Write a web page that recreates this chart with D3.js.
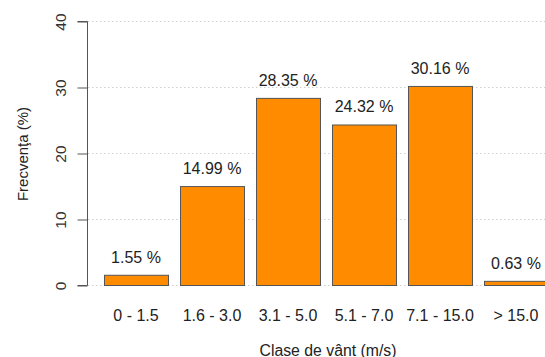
<!DOCTYPE html>
<html><head><meta charset="utf-8">
<script src="https://cdn.jsdelivr.net/npm/d3@7"></script>
<style>html,body{margin:0;padding:0;background:#fff;}svg{display:block;font-family:"Liberation Sans",Arial,Helvetica,sans-serif;}</style>
</head><body>
<svg id="c" width="545" height="357"></svg>
<script>
const categories = ["0 - 1.5", "1.6 - 3.0", "3.1 - 5.0", "5.1 - 7.0", "7.1 - 15.0", "> 15.0"];
const values = [1.55, 14.99, 28.35, 24.32, 30.16, 0.63];
const yTicks = [0, 10, 20, 30, 40];
const gridValues = [0, 10, 20, 30, 40];

const svg = d3.select("#c");
const y = d3.scaleLinear().domain([0, 40]).range([285.5, 21.5]);
const x = d3.scaleBand().domain(categories).range([98, 554]).paddingInner(12/76).paddingOuter(6/76).align(0.5);

// grid
svg.append("g").selectAll("line").data(gridValues).join("line")
  .attr("x1", 88).attr("x2", 545)
  .attr("y1", d => y(d)).attr("y2", d => y(d))
  .attr("stroke", "#d0d0d0").attr("stroke-width", 1).attr("stroke-dasharray", "1.5,2.5");

// y axis
const yAxis = d3.axisLeft(y).tickValues(yTicks).tickSize(10).tickPadding(0).tickFormat(d3.format("d"));
const ga = svg.append("g").attr("transform", "translate(87.5,0)").call(yAxis);
ga.select(".domain").attr("stroke", "#555").attr("d", `M-10,${y(40)}H0V${y(0)}H-10`);
ga.selectAll(".tick line").attr("stroke", "#555");
ga.selectAll(".tick text").attr("fill", "#333").attr("font-size", 15.5)
  .attr("text-anchor", "middle").attr("dominant-baseline", "central")
  .attr("transform", "translate(-27,0) rotate(-90)").attr("x", 0).attr("dy", 0);

// bars
svg.append("g").selectAll("rect").data(values).join("rect")
  .attr("x", (d, i) => x(categories[i]) + 0.5)
  .attr("y", d => y(d))
  .attr("width", x.bandwidth())
  .attr("height", d => y(0) - y(d))
  .attr("fill", "#FF8C00").attr("stroke", "#555").attr("stroke-width", 1);

// value labels
svg.append("g").selectAll("text").data(values).join("text")
  .attr("x", (d, i) => x(categories[i]) + x.bandwidth() / 2)
  .attr("y", d => y(d) - 18)
  .attr("text-anchor", "middle").attr("dominant-baseline", "central")
  .attr("font-size", 16).attr("fill", "#222")
  .text(d => d.toFixed(2) + " %");

// x labels
svg.append("g").selectAll("text").data(categories).join("text")
  .attr("x", d => x(d) + x.bandwidth() / 2)
  .attr("y", 315)
  .attr("text-anchor", "middle").attr("dominant-baseline", "central")
  .attr("font-size", 16).attr("fill", "#222")
  .text(d => d);

// axis titles
svg.append("text").attr("x", 328).attr("y", 350)
  .attr("text-anchor", "middle").attr("dominant-baseline", "central")
  .attr("font-size", 15.8).attr("fill", "#222").text("Clase de vânt (m/s)");
svg.append("text").attr("transform", "translate(22,154) rotate(-90)")
  .attr("text-anchor", "middle").attr("dominant-baseline", "central")
  .attr("font-size", 15).attr("fill", "#222").text("Frecvenţa (%)");
</script>
</body></html>
